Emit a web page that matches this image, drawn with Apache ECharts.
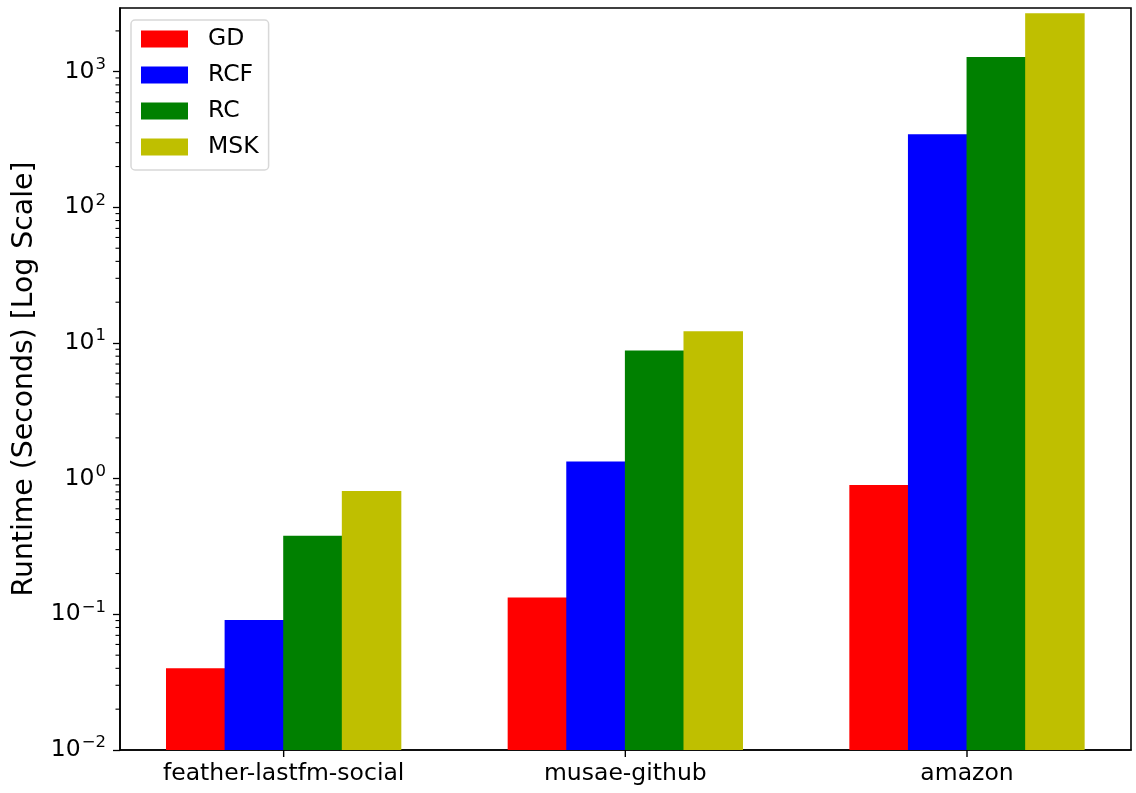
<!DOCTYPE html>
<html>
<head>
<meta charset="utf-8">
<script src="https://cdn.jsdelivr.net/npm/echarts@6/dist/echarts.min.js"></script>
<style>
  html, body { margin: 0; padding: 0; background: #fff; }
  #chart { width: 1136px; height: 793px; }
</style>
</head>
<body>
<div id="chart"></div>
<script>
// Runtime per dataset and method (seconds, log scale)
const categories = ['feather-lastfm-social', 'musae-github', 'amazon'];
const seriesNames = ['GD', 'RCF', 'RC', 'MSK'];
const gdValues  = [0.040, 0.133, 0.90];
const rcfValues = [0.091, 1.34, 346];
const rcValues  = [0.38, 8.8, 1285];
const mskValues = [0.81, 12.2, 2700];
const seriesColors = ['#ff0000', '#0000ff', '#008000', '#bfbf00'];

// axis ranges and minor tick positions (2..9 x 10^k)
const xMin = -0.479;
const xMax = 2.48;
const yMin = 0.01;
const yMax = 2950;
const minorMantissas = [2, 3, 4, 5, 6, 7, 8, 9];
const minorDecades = [0.01, 0.1, 1, 10, 100, 1000];

const FONT = 'DejaVu Sans';
const seriesValues = [gdValues, rcfValues, rcValues, mskValues];
const catPositions = categories.map((c, i) => i);

const minorTicks = [];
minorDecades.forEach(d => minorMantissas.forEach(m => {
  const v = +(m * d).toPrecision(3);
  if (v < yMax) minorTicks.push(v);
}));

function powLabel(value) {
  const e = Math.round(Math.log10(value));
  const s = String(e).replace('-', '\u2212');
  return '{b|10}{s|' + s + '}';
}

const chart = echarts.init(document.getElementById('chart'), null, { renderer: 'canvas' });

const barSeries = seriesNames.map((name, i) => ({
  name: name,
  type: 'bar',
  data: seriesValues[i].map((v, j) => [catPositions[j], v]),
  barWidth: 59.5,
  barGap: '-1.5%',
  itemStyle: { color: seriesColors[i] },
  emphasis: { disabled: true },
  z: 2
}));

// minor ticks on the log axis, drawn just outside the plot frame
const minorTickSeries = {
  type: 'custom',
  silent: true,
  clip: false,
  data: minorTicks.map(v => [0, v]),
  renderItem: function (params, api) {
    const y = api.coord([0, api.value(1)])[1];
    const x0 = params.coordSys.x;
    return {
      type: 'line',
      shape: { x1: x0 - 4.5, y1: y, x2: x0, y2: y },
      style: { stroke: '#000', lineWidth: 1.1 }
    };
  },
  z: 5
};

// major ticks under each dataset group
const xTickSeries = {
  type: 'custom',
  silent: true,
  clip: false,
  data: catPositions.map(p => [p, yMin]),
  renderItem: function (params, api) {
    const x = api.coord([api.value(0), yMin])[0];
    const y0 = params.coordSys.y + params.coordSys.height;
    return {
      type: 'line',
      shape: { x1: x, y1: y0, x2: x, y2: y0 + 7 },
      style: { stroke: '#000', lineWidth: 1.4 }
    };
  },
  z: 5
};

chart.setOption({
  animation: false,
  backgroundColor: '#fff',
  textStyle: { fontFamily: FONT },
  grid: {
    left: 120, top: 8, right: 5, bottom: 43,
    show: true, borderColor: '#000', borderWidth: 1.6,
    backgroundColor: 'transparent'
  },
  legend: {
    orient: 'vertical',
    left: 131, top: 20,
    padding: [7, 10, 11, 10],
    itemWidth: 47, itemHeight: 17,
    itemGap: 12,
    icon: 'rect',
    borderColor: '#d8d8d8', borderWidth: 1.5, borderRadius: 4,
    backgroundColor: 'rgba(255,255,255,0.85)',
    textStyle: { fontFamily: FONT, fontSize: 23.5, color: '#000', padding: [0, 0, 0, 15] },
    data: seriesNames
  },
  xAxis: {
    type: 'value',
    min: xMin,
    max: xMax,
    splitLine: { show: false },
    axisLine: { onZero: false, lineStyle: { color: '#000', width: 1.6 } },
    axisTick: { show: false },
    axisLabel: {
      customValues: catPositions,
      formatter: v => categories[Math.round(v)],
      fontFamily: FONT, fontSize: 23.5, color: '#000', margin: 12
    }
  },
  yAxis: {
    type: 'log',
    logBase: 10,
    min: yMin,
    max: yMax,
    startValue: yMin,
    name: 'Runtime (Seconds) [Log Scale]',
    nameLocation: 'middle',
    nameGap: 81,
    nameTextStyle: { fontFamily: FONT, fontSize: 28.3, color: '#000' },
    splitLine: { show: false },
    axisLine: { show: true, onZero: false, lineStyle: { color: '#000', width: 1.6 } },
    axisTick: { show: true, length: 7, lineStyle: { color: '#000', width: 1.3 } },
    axisLabel: {
      showMaxLabel: false,
      margin: 14,
      color: '#000',
      formatter: powLabel,
      rich: {
        b: { fontFamily: FONT, fontSize: 23.5, color: '#000' },
        s: { fontFamily: FONT, fontSize: 16.5, color: '#000', padding: [0, 0, 14, 1] }
      }
    }
  },
  series: barSeries.concat([minorTickSeries, xTickSeries])
});
</script>
</body>
</html>
